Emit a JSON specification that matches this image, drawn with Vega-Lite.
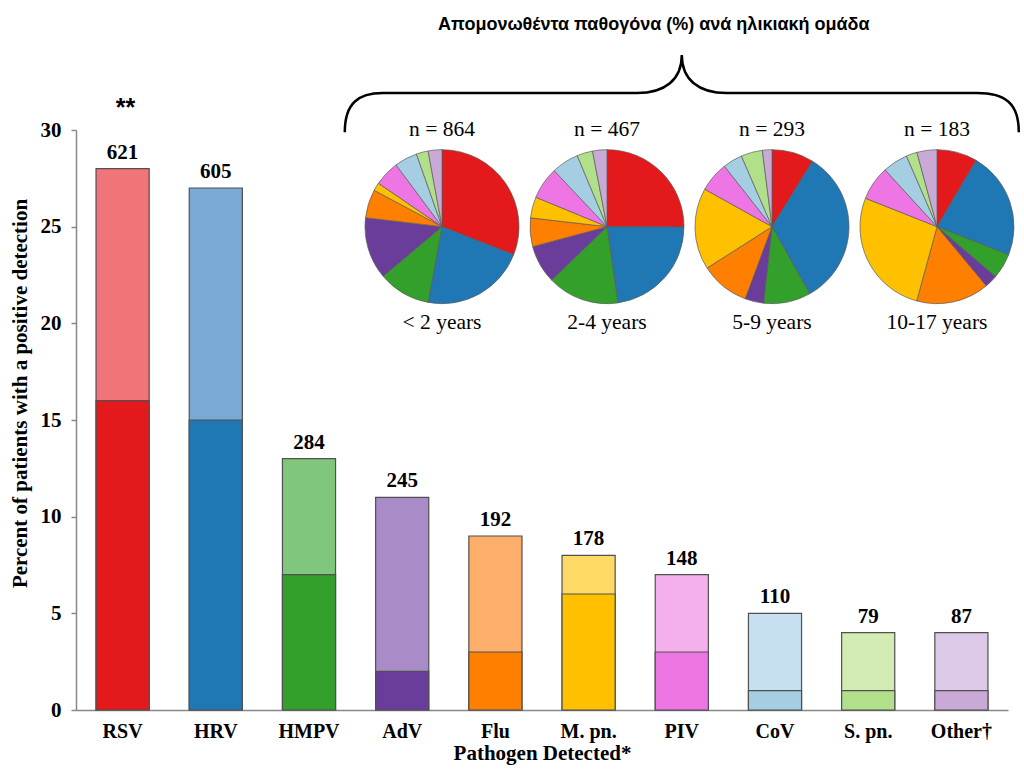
{
  "$schema": "https://vega.github.io/schema/vega-lite/v6.json",
  "width": 932,
  "height": 580,
  "autosize": {"type": "none"},
  "padding": {"left": 76, "top": 130, "right": 16, "bottom": 73},
  "background": "white",
  "config": {
    "view": {"stroke": null},
    "font": "Liberation Serif",
    "axisY": {"domainColor": "#888888", "domainWidth": 1.5, "tickColor": "#888888", "tickSize": 5, "tickWidth": 1.5, "labelFont": "Liberation Serif", "labelFontWeight": "bold", "labelFontSize": 21, "labelColor": "black", "labelPadding": 10, "titleFont": "Liberation Serif", "titleFontWeight": "bold", "titleFontSize": 21, "titleColor": "black", "titlePadding": 10, "titleY": 263, "grid": false},
    "axisX": {"domainColor": "#888888", "domainWidth": 1.5, "ticks": false, "labelAngle": 0, "labelFont": "Liberation Serif", "labelFontWeight": "bold", "labelFontSize": 20, "labelColor": "black", "labelPadding": 11, "titleFont": "Liberation Serif", "titleFontWeight": "bold", "titleFontSize": 21, "titleColor": "black", "titlePadding": 1, "grid": false}
  },
  "datasets": {
    "bars": [
      {"pathogen": "RSV", "dark": 16, "total": 28, "n": 621, "note": "**"},
      {"pathogen": "HRV", "dark": 15, "total": 27, "n": 605, "note": ""},
      {"pathogen": "HMPV", "dark": 7, "total": 13, "n": 284, "note": ""},
      {"pathogen": "AdV", "dark": 2, "total": 11, "n": 245, "note": ""},
      {"pathogen": "Flu", "dark": 3, "total": 9, "n": 192, "note": ""},
      {"pathogen": "M. pn.", "dark": 6, "total": 8, "n": 178, "note": ""},
      {"pathogen": "PIV", "dark": 3, "total": 7, "n": 148, "note": ""},
      {"pathogen": "CoV", "dark": 1, "total": 5, "n": 110, "note": ""},
      {"pathogen": "S. pn.", "dark": 1, "total": 4, "n": 79, "note": ""},
      {"pathogen": "Other†", "dark": 1, "total": 4, "n": 87, "note": ""}
    ],
    "pies": [
      {"age": "< 2 years", "pathogen": "RSV", "pct": 31},
      {"age": "< 2 years", "pathogen": "HRV", "pct": 22},
      {"age": "< 2 years", "pathogen": "HMPV", "pct": 11},
      {"age": "< 2 years", "pathogen": "AdV", "pct": 13},
      {"age": "< 2 years", "pathogen": "Flu", "pct": 6},
      {"age": "< 2 years", "pathogen": "M. pn.", "pct": 1.7},
      {"age": "< 2 years", "pathogen": "PIV", "pct": 5.3},
      {"age": "< 2 years", "pathogen": "CoV", "pct": 4.8},
      {"age": "< 2 years", "pathogen": "S. pn.", "pct": 2.5},
      {"age": "< 2 years", "pathogen": "Other†", "pct": 2.9},
      {"age": "2-4 years", "pathogen": "RSV", "pct": 25},
      {"age": "2-4 years", "pathogen": "HRV", "pct": 22.6},
      {"age": "2-4 years", "pathogen": "HMPV", "pct": 15},
      {"age": "2-4 years", "pathogen": "AdV", "pct": 8},
      {"age": "2-4 years", "pathogen": "Flu", "pct": 6},
      {"age": "2-4 years", "pathogen": "M. pn.", "pct": 4.4},
      {"age": "2-4 years", "pathogen": "PIV", "pct": 6.7},
      {"age": "2-4 years", "pathogen": "CoV", "pct": 5.7},
      {"age": "2-4 years", "pathogen": "S. pn.", "pct": 3.3},
      {"age": "2-4 years", "pathogen": "Other†", "pct": 3},
      {"age": "5-9 years", "pathogen": "RSV", "pct": 8.8},
      {"age": "5-9 years", "pathogen": "HRV", "pct": 33},
      {"age": "5-9 years", "pathogen": "HMPV", "pct": 9.9},
      {"age": "5-9 years", "pathogen": "AdV", "pct": 3.9},
      {"age": "5-9 years", "pathogen": "Flu", "pct": 10.3},
      {"age": "5-9 years", "pathogen": "M. pn.", "pct": 17.1},
      {"age": "5-9 years", "pathogen": "PIV", "pct": 6.3},
      {"age": "5-9 years", "pathogen": "CoV", "pct": 4.1},
      {"age": "5-9 years", "pathogen": "S. pn.", "pct": 4.5},
      {"age": "5-9 years", "pathogen": "Other†", "pct": 2},
      {"age": "10-17 years", "pathogen": "RSV", "pct": 8.5},
      {"age": "10-17 years", "pathogen": "HRV", "pct": 22.5},
      {"age": "10-17 years", "pathogen": "HMPV", "pct": 5.3},
      {"age": "10-17 years", "pathogen": "AdV", "pct": 2.7},
      {"age": "10-17 years", "pathogen": "Flu", "pct": 15.3},
      {"age": "10-17 years", "pathogen": "M. pn.", "pct": 26.8},
      {"age": "10-17 years", "pathogen": "PIV", "pct": 7.2},
      {"age": "10-17 years", "pathogen": "CoV", "pct": 5.3},
      {"age": "10-17 years", "pathogen": "S. pn.", "pct": 2.3},
      {"age": "10-17 years", "pathogen": "Other†", "pct": 4.2}
    ],
    "ages": [
      {"age": "< 2 years", "nlabel": "n = 864"},
      {"age": "2-4 years", "nlabel": "n = 467"},
      {"age": "5-9 years", "nlabel": "n = 293"},
      {"age": "10-17 years", "nlabel": "n = 183"}
    ]
  },
  "layer": [
    {
      "data": {"name": "bars"},
      "encoding": {
        "x": {"field": "pathogen", "type": "nominal", "sort": null, "title": "Pathogen Detected*", "scale": {"paddingInner": 0.43, "paddingOuter": 0.215}}
      },
      "layer": [
        {
          "mark": {"type": "bar", "stroke": "#505050", "strokeWidth": 1.2},
          "encoding": {
            "y": {"field": "total", "type": "quantitative", "title": "Percent of patients with a positive detection", "scale": {"domain": [0, 30], "nice": false}, "axis": {"values": [0, 5, 10, 15, 20, 25, 30]}},
            "fill": {"field": "pathogen", "type": "nominal", "legend": null, "scale": {"domain": ["RSV", "HRV", "HMPV", "AdV", "Flu", "M. pn.", "PIV", "CoV", "S. pn.", "Other†"], "range": ["#f07478", "#7aa9d5", "#80c67c", "#a98bc8", "#fdae6b", "#ffd966", "#f4b0ec", "#c6e0ef", "#d3ecb4", "#dcc9e7"]}}
          }
        },
        {
          "mark": {"type": "bar", "stroke": "#505050", "strokeWidth": 1.2},
          "encoding": {
            "y": {"field": "dark", "type": "quantitative", "title": "Percent of patients with a positive detection", "scale": {"domain": [0, 30], "nice": false}, "axis": {"values": [0, 5, 10, 15, 20, 25, 30]}},
            "color": {"field": "pathogen", "type": "nominal", "legend": null, "scale": {"domain": ["RSV", "HRV", "HMPV", "AdV", "Flu", "M. pn.", "PIV", "CoV", "S. pn.", "Other†"], "range": ["#e3191c", "#1f77b4", "#33a02c", "#6a3d9a", "#ff7f00", "#ffc000", "#ee76e4", "#a6cee3", "#b2df8a", "#c9a9d6"]}}
          }
        },
        {
          "mark": {"type": "text", "font": "Liberation Serif", "fontWeight": "bold", "fontSize": 21, "baseline": "alphabetic", "dy": -10, "color": "black"},
          "encoding": {
            "y": {"field": "total", "type": "quantitative", "title": "Percent of patients with a positive detection", "scale": {"domain": [0, 30], "nice": false}, "axis": {"values": [0, 5, 10, 15, 20, 25, 30]}},
            "text": {"field": "n", "type": "nominal"}
          }
        },
        {
          "mark": {"type": "text", "font": "Liberation Sans", "fontWeight": "bold", "fontSize": 25, "baseline": "alphabetic", "dy": -53, "dx": 3, "color": "black"},
          "encoding": {
            "y": {"field": "total", "type": "quantitative", "title": "Percent of patients with a positive detection", "scale": {"domain": [0, 30], "nice": false}, "axis": {"values": [0, 5, 10, 15, 20, 25, 30]}},
            "text": {"field": "note", "type": "nominal"}
          }
        }
      ]
    },
    {
      "layer": [
        {
          "data": {"name": "pies"},
          "transform": [{"stack": "pct", "groupby": ["age"], "as": ["s0", "s1"], "offset": "normalize"}],
          "mark": {"type": "arc", "radius": 77, "stroke": "#5a5a5a", "strokeWidth": 0.7},
          "encoding": {
            "x": {"field": "age", "type": "nominal", "axis": null, "scale": {"type": "point", "padding": 0, "domain": ["< 2 years", "2-4 years", "5-9 years", "10-17 years"], "range": [366, 861]}},
            "y": {"datum": 25, "type": "quantitative", "axis": null, "scale": {"domain": [0, 30], "nice": false}},
            "theta": {"field": "s0", "type": "quantitative", "scale": {"domain": [0, 1], "range": [0, 6.2832]}},
            "theta2": {"field": "s1"},
            "color": {"field": "pathogen", "type": "nominal", "legend": null, "scale": {"domain": ["RSV", "HRV", "HMPV", "AdV", "Flu", "M. pn.", "PIV", "CoV", "S. pn.", "Other†"], "range": ["#e3191c", "#1f77b4", "#33a02c", "#6a3d9a", "#ff7f00", "#ffc000", "#ee76e4", "#a6cee3", "#b2df8a", "#c9a9d6"]}}
          }
        },
        {
          "data": {"name": "ages"},
          "mark": {"type": "text", "font": "Liberation Serif", "fontSize": 21.5, "baseline": "middle", "color": "black"},
          "encoding": {
            "x": {"field": "age", "type": "nominal", "axis": null, "scale": {"type": "point", "padding": 0, "domain": ["< 2 years", "2-4 years", "5-9 years", "10-17 years"], "range": [366, 861]}},
            "y": {"datum": 30, "type": "quantitative", "axis": null, "scale": {"domain": [0, 30], "nice": false}},
            "text": {"field": "nlabel", "type": "nominal"}
          }
        },
        {
          "data": {"name": "ages"},
          "mark": {"type": "text", "font": "Liberation Serif", "fontSize": 21.5, "baseline": "middle", "color": "black"},
          "encoding": {
            "x": {"field": "age", "type": "nominal", "axis": null, "scale": {"type": "point", "padding": 0, "domain": ["< 2 years", "2-4 years", "5-9 years", "10-17 years"], "range": [366, 861]}},
            "y": {"datum": 20, "type": "quantitative", "axis": null, "scale": {"domain": [0, 30], "nice": false}},
            "text": {"field": "age", "type": "nominal"}
          }
        }
      ]
    },
    {
      "data": {"values": [{}]},
      "layer": [
        {
          "mark": {"type": "point", "shape": "M -1 0.116 C -1 0.03 -0.96 0 -0.887 0 L -0.133 0 C -0.05 0 0 -0.04 0 -0.113 C 0 -0.04 0.05 0 0.133 0 L 0.875 0 C 0.96 0 1 0.03 1 0.116", "size": 454276, "filled": false, "stroke": "black", "strokeWidth": 2.5, "opacity": 1},
          "encoding": {
            "x": {"datum": 6.5, "type": "quantitative", "axis": null, "scale": {"domain": [0, 10], "nice": false}},
            "y": {"datum": 31.91, "type": "quantitative", "axis": null, "scale": {"domain": [0, 30], "nice": false}}
          }
        },
        {
          "mark": {"type": "text", "text": "Απομονωθέντα παθογόνα (%) ανά ηλικιακή ομάδα", "font": "Liberation Sans", "fontWeight": "bold", "fontSize": 18, "baseline": "middle", "color": "black"},
          "encoding": {
            "x": {"datum": 6.2, "type": "quantitative", "axis": null, "scale": {"domain": [0, 10], "nice": false}},
            "y": {"datum": 35.43, "type": "quantitative", "axis": null, "scale": {"domain": [0, 30], "nice": false}}
          }
        }
      ]
    }
  ],
  "resolve": {"scale": {"x": "independent", "y": "independent"}}
}
